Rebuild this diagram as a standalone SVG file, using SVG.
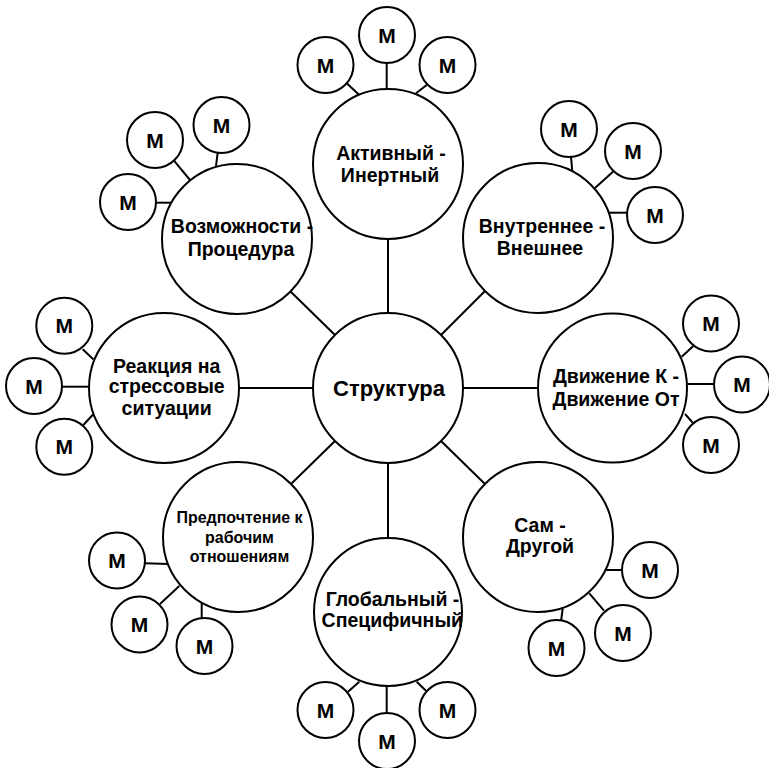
<svg xmlns="http://www.w3.org/2000/svg" width="769" height="768" viewBox="0 0 769 768">
<style>
circle{fill:#fff;stroke:#000;stroke-width:2}
line{stroke:#000;stroke-width:2}
text{font-family:"Liberation Sans",Arial,sans-serif;font-weight:bold;fill:#000;text-anchor:middle}
.l{font-size:19.5px}
.c{font-size:22px}
.s{font-size:16px}
.m{font-size:21px}
</style>
<rect width="769" height="768" fill="#fff"/>
<g id="connectors">
<line x1="388" y1="239" x2="388" y2="313"/>
<line x1="388" y1="463" x2="388" y2="537"/>
<line x1="239" y1="388" x2="313" y2="388"/>
<line x1="463" y1="388" x2="538" y2="388"/>
<line x1="335" y1="335" x2="290" y2="291"/>
<line x1="441" y1="335" x2="485" y2="291"/>
<line x1="335" y1="441" x2="291" y2="484"/>
<line x1="441" y1="441" x2="485" y2="484"/>
<line x1="346.7" y1="83.3" x2="359.3" y2="95"/>
<line x1="386.7" y1="63" x2="386.7" y2="89"/>
<line x1="416" y1="93.3" x2="426.7" y2="85"/>
<line x1="217.7" y1="152.7" x2="216" y2="166"/>
<line x1="174" y1="160.7" x2="190" y2="180"/>
<line x1="156" y1="202.7" x2="171.7" y2="202.7"/>
<line x1="571" y1="156.7" x2="572.3" y2="171.7"/>
<line x1="613" y1="171.7" x2="595" y2="188"/>
<line x1="608" y1="212.7" x2="627" y2="212.7"/>
<line x1="82.7" y1="349.3" x2="93.3" y2="359.3"/>
<line x1="62" y1="386.7" x2="88.3" y2="386.7"/>
<line x1="83.3" y1="425" x2="93.3" y2="414.3"/>
<line x1="681.7" y1="356.7" x2="693.3" y2="346"/>
<line x1="687.3" y1="384" x2="714.3" y2="384"/>
<line x1="685" y1="414" x2="692.7" y2="422.7"/>
<line x1="145" y1="563.3" x2="169" y2="564"/>
<line x1="160" y1="604" x2="179.3" y2="586"/>
<line x1="201.7" y1="601.7" x2="201.7" y2="618.3"/>
<line x1="348" y1="691.7" x2="359.3" y2="681.7"/>
<line x1="386.7" y1="686.7" x2="386.7" y2="712.7"/>
<line x1="416.7" y1="681.7" x2="426" y2="690.7"/>
<line x1="605" y1="570" x2="622" y2="570"/>
<line x1="589.3" y1="593.3" x2="604" y2="610.7"/>
<line x1="562.7" y1="608.3" x2="561" y2="621.7"/>
</g>
<g id="center"><circle cx="388" cy="388" r="75"/><text class="c" x="389" y="395.5">Структура</text></g>
<g id="active"><circle cx="388" cy="164" r="75"/><text class="l" x="391" y="160">Активный -</text><text class="l" x="390" y="181.7">Инертный</text></g>
<g id="possibilities"><circle cx="237" cy="239" r="75"/><text class="l" x="242" y="233.3">Возможности -</text><text class="l" x="241" y="255.7">Процедура</text></g>
<g id="internal"><circle cx="538" cy="238" r="75"/><text class="l" x="542" y="233.3">Внутреннее -</text><text class="l" x="540" y="255">Внешнее</text></g>
<g id="stress"><circle cx="164" cy="388" r="75"/><text class="l" x="166.7" y="372.7">Реакция на</text><text class="l" x="166.7" y="393.3">стрессовые</text><text class="l" x="166.7" y="415">ситуации</text></g>
<g id="movement"><circle cx="612.5" cy="388" r="74.5"/><text class="l" x="616" y="383.3">Движение К -</text><text class="l" x="616" y="406">Движение От</text></g>
<g id="work"><circle cx="238" cy="537" r="75"/><text class="s" x="239.5" y="522.7">Предпочтение к</text><text class="s" x="239.5" y="542.7">рабочим</text><text class="s" x="239.5" y="561.7">отношениям</text></g>
<g id="global"><circle cx="388" cy="612" r="74"/><text class="l" x="392.5" y="605.7">Глобальный -</text><text class="l" x="392.3" y="627.3">Специфичный</text></g>
<g id="self"><circle cx="538" cy="537" r="75"/><text class="l" x="540" y="531.7">Сам -</text><text class="l" x="540" y="553.3">Другой</text></g>
<g id="m-top-1"><circle cx="325.5" cy="65" r="28"/><text class="m" x="325.5" y="72.5">М</text></g>
<g id="m-top-2"><circle cx="387" cy="35" r="28"/><text class="m" x="387" y="42.5">М</text></g>
<g id="m-top-3"><circle cx="447.5" cy="65" r="28"/><text class="m" x="447.5" y="72.5">М</text></g>
<g id="m-ul-1"><circle cx="221.5" cy="125" r="28"/><text class="m" x="221.5" y="132.5">М</text></g>
<g id="m-ul-2"><circle cx="155" cy="140" r="28"/><text class="m" x="155" y="147.5">М</text></g>
<g id="m-ul-3"><circle cx="128" cy="202" r="28"/><text class="m" x="128" y="209.5">М</text></g>
<g id="m-ur-1"><circle cx="569" cy="129" r="28"/><text class="m" x="569" y="136.5">М</text></g>
<g id="m-ur-2"><circle cx="633" cy="151" r="28"/><text class="m" x="633" y="158.5">М</text></g>
<g id="m-ur-3"><circle cx="655" cy="215" r="28"/><text class="m" x="655" y="222.5">М</text></g>
<g id="m-l-1"><circle cx="64.3" cy="325.7" r="28"/><text class="m" x="64.3" y="333.2">М</text></g>
<g id="m-l-2"><circle cx="34" cy="386" r="28"/><text class="m" x="34" y="393.5">М</text></g>
<g id="m-l-3"><circle cx="64.3" cy="446.7" r="28"/><text class="m" x="64.3" y="454.2">М</text></g>
<g id="m-r-1"><circle cx="711" cy="323.5" r="28"/><text class="m" x="711" y="331">М</text></g>
<g id="m-r-2"><circle cx="742" cy="384.5" r="28"/><text class="m" x="742" y="392">М</text></g>
<g id="m-r-3"><circle cx="711" cy="445" r="28"/><text class="m" x="711" y="452.5">М</text></g>
<g id="m-ll-1"><circle cx="117" cy="560.5" r="28"/><text class="m" x="117" y="568">М</text></g>
<g id="m-ll-2"><circle cx="139.5" cy="624.5" r="28"/><text class="m" x="139.5" y="632">М</text></g>
<g id="m-ll-3"><circle cx="204.5" cy="646" r="28"/><text class="m" x="204.5" y="653.5">М</text></g>
<g id="m-b-1"><circle cx="325.5" cy="710" r="28"/><text class="m" x="325.5" y="717.5">М</text></g>
<g id="m-b-2"><circle cx="387" cy="741" r="28"/><text class="m" x="387" y="748.5">М</text></g>
<g id="m-b-3"><circle cx="447.5" cy="710" r="28"/><text class="m" x="447.5" y="717.5">М</text></g>
<g id="m-lr-1"><circle cx="650" cy="570" r="28"/><text class="m" x="650" y="577.5">М</text></g>
<g id="m-lr-2"><circle cx="623" cy="633" r="28"/><text class="m" x="623" y="640.5">М</text></g>
<g id="m-lr-3"><circle cx="556.5" cy="648" r="28"/><text class="m" x="556.5" y="655.5">М</text></g>
</svg>
